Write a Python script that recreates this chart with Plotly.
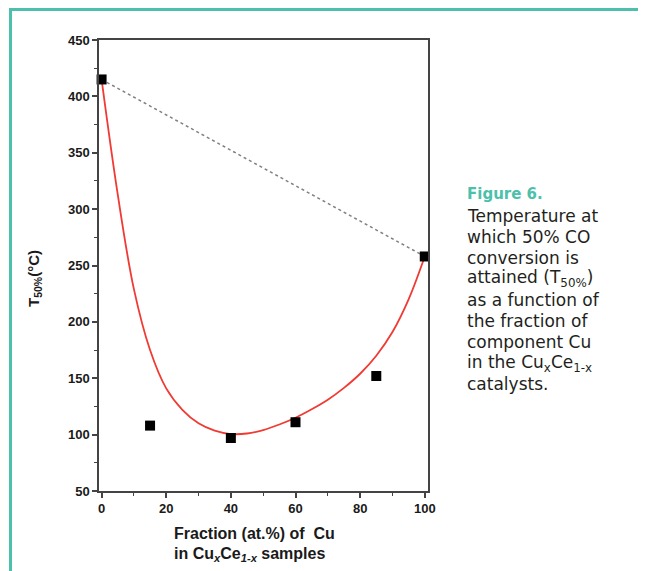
import plotly.graph_objects as go

# ---- data ----
sample_x = [0, 15, 40, 60, 85, 100]
sample_t50 = [415, 108, 97, 111, 152, 258]

fit_x = [0, 5, 10, 15, 20, 25, 30, 35, 40, 45, 50, 55, 60, 65, 70, 75, 80, 85, 90, 95, 100]
fit_t50 = [415, 313, 229, 175, 141, 122, 110, 103.5, 100.5, 101, 104, 109, 115, 122.5, 131, 141.5, 154, 170, 191, 220, 258]

ideal_x = [0, 100]
ideal_t50 = [415, 258]

caption_title = "Figure 6."
caption_lines = [
    "Temperature at",
    "which 50% CO",
    "conversion is",
    "attained (T<sub>50%</sub>)",
    "as a function of",
    "the fraction of",
    "component Cu",
    "in the Cu<sub>x</sub>Ce<sub>1-x</sub>",
    "catalysts.",
]

# ---- layout constants (screen pixels; page body has an 8px margin) ----
OFF = 8
SCREEN_W, SCREEN_H = 646, 571
W, H = SCREEN_W - OFF, SCREEN_H - OFF
PLOT_L, PLOT_R, PLOT_T, PLOT_B = 99, 428, 40, 491
ML = PLOT_L - OFF
MT = PLOT_T - OFF
MR = SCREEN_W - PLOT_R
MB = SCREEN_H - PLOT_B
PW = PLOT_R - PLOT_L
PH = PLOT_B - PLOT_T


def px(x):
    return (x - PLOT_L) / PW


def py(y):
    return (PLOT_B - y) / PH


TEAL = "#4DBFAA"
AXIS_FONT = "Liberation Sans"
CAPTION_FONT = "DejaVu Sans"

fig = go.Figure()

fig.add_trace(go.Scatter(
    x=ideal_x, y=ideal_t50, mode="lines",
    line=dict(color="#808080", width=1.5, dash="dot"),
    hoverinfo="skip", showlegend=False,
))
fig.add_trace(go.Scatter(
    x=fit_x, y=fit_t50, mode="lines",
    line=dict(color="#F03A33", width=1.8, shape="spline", smoothing=1.0),
    showlegend=False,
))
fig.add_trace(go.Scatter(
    x=sample_x, y=sample_t50, mode="markers",
    marker=dict(symbol="square", size=10, color="black"),
    cliponaxis=False, showlegend=False,
))

fig.update_xaxes(
    range=[-0.8, 101], showgrid=False, zeroline=False,
    showline=True, mirror=True, linecolor="#444", linewidth=1.5,
    ticks="outside", ticklen=5, tickwidth=1.5, tickcolor="#444",
    tick0=0, dtick=20,
    minor=dict(ticks="outside", ticklen=3, tickwidth=1.2, tickcolor="#444", dtick=10, tick0=0),
    tickfont=dict(family=AXIS_FONT, size=13, color="#1a1a1a", weight="bold"),
)
fig.update_yaxes(
    range=[50, 450], showgrid=False, zeroline=False,
    showline=True, mirror=True, linecolor="#444", linewidth=1.5,
    ticks="outside", ticklen=5, tickwidth=1.5, tickcolor="#444",
    tick0=50, dtick=50,
    minor=dict(ticks="outside", ticklen=3, tickwidth=1.2, tickcolor="#444", dtick=25, tick0=50),
    tickfont=dict(family=AXIS_FONT, size=13, color="#1a1a1a", weight="bold"),
)

annotations = []
# y-axis title
annotations.append(dict(
    x=px(34), y=py(279), xref="paper", yref="paper", showarrow=False,
    text="T<sub>50%</sub>(°C)", textangle=-90,
    font=dict(family=AXIS_FONT, size=15, color="#1a1a1a", weight="bold"),
    xanchor="center", yanchor="middle",
))
# x-axis title (two left-aligned lines)
annotations.append(dict(
    x=px(172), y=py(533), xref="paper", yref="paper", showarrow=False,
    text="Fraction (at.%) of  Cu",
    font=dict(family=AXIS_FONT, size=16, color="#1a1a1a", weight="bold"),
    xanchor="left", yanchor="middle",
))
annotations.append(dict(
    x=px(172), y=py(554), xref="paper", yref="paper", showarrow=False,
    text="in Cu<sub><i>x</i></sub>Ce<sub><i>1-x</i></sub> samples",
    font=dict(family=AXIS_FONT, size=16, color="#1a1a1a", weight="bold"),
    xanchor="left", yanchor="middle",
))
# caption
annotations.append(dict(
    x=px(465), y=py(194), xref="paper", yref="paper", showarrow=False,
    text=caption_title,
    font=dict(family=CAPTION_FONT, size=15, color=TEAL, weight="bold"),
    xanchor="left", yanchor="middle",
))
for i, line in enumerate(caption_lines):
    annotations.append(dict(
        x=px(465), y=py(215.5 + 21.1 * i), xref="paper", yref="paper", showarrow=False,
        text=line,
        font=dict(family=CAPTION_FONT, size=17, color="#231F20"),
        xanchor="left", yanchor="middle",
    ))

shapes = [
    dict(type="line", xref="paper", yref="paper",
         x0=px(10.5), x1=px(10.5), y0=py(8), y1=py(SCREEN_H + 5),
         line=dict(color=TEAL, width=3), layer="above"),
    dict(type="line", xref="paper", yref="paper",
         x0=px(9), x1=px(SCREEN_W + 5), y0=py(9.5), y1=py(9.5),
         line=dict(color=TEAL, width=3), layer="above"),
]

fig.update_layout(
    width=W, height=H,
    margin=dict(l=ML, r=MR, t=MT, b=MB, pad=0),
    paper_bgcolor="white", plot_bgcolor="white",
    annotations=annotations, shapes=shapes,
    showlegend=False,
)

fig.write_html("out.html", config={"displayModeBar": False})
